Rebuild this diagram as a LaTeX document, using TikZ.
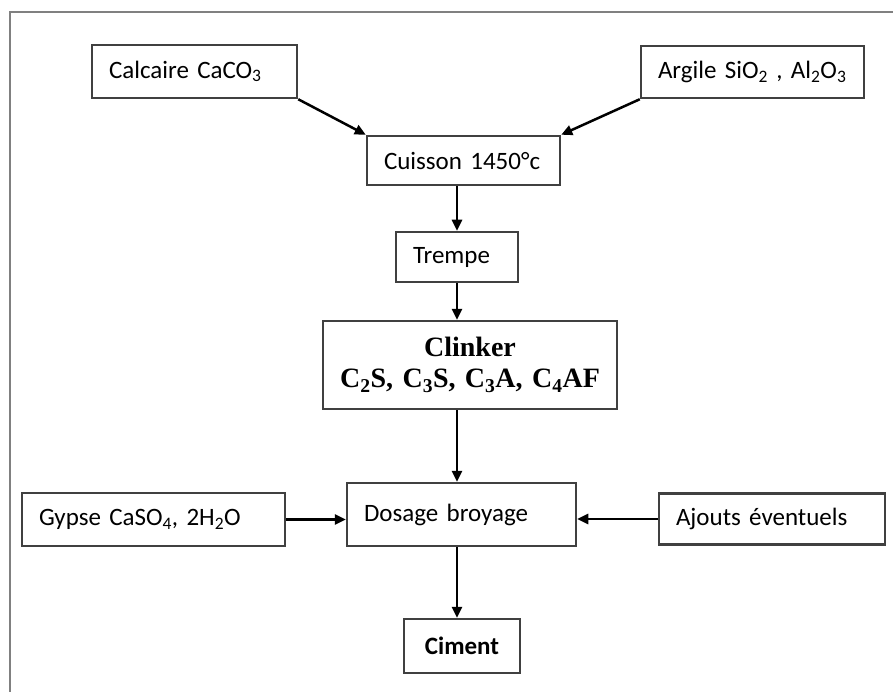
\documentclass[tikz,border=0pt]{standalone}
\usepackage{fontspec}
\setmainfont{Carlito}
\newfontfamily\timesfont{Liberation Serif}
\usetikzlibrary{arrows.meta}

\definecolor{bordcolor}{rgb}{0.250000, 0.250000, 0.250000}
\definecolor{cadrecolor}{rgb}{0.500000, 0.500000, 0.500000}

\tikzset{
  etape/.style={draw=bordcolor, line width=2.5pt, rectangle, inner xsep=17pt, inner ysep=0pt,
    font=\fontsize{25}{29}\selectfont, align=left},
  fleche/.style={-{Triangle[length=11pt,width=10pt]}, line width=2.5pt, black},
}

\begin{document}
\begin{tikzpicture}[x=1pt,y=-1pt]
\useasboundingbox (0,0) rectangle (893,692);
% cadre
\draw[cadrecolor, line width=2pt] (900,12)--(10,12)--(10,700);
% matieres premieres
\node[etape, minimum height=53pt, text width=171pt] (calcaire) at (194.5,71.5) {Calcaire CaCO\textsubscript{3}};
\node[etape, minimum height=52pt, text width=189pt] (argile) at (752.5,72) {Argile SiO\textsubscript{2} , Al\textsubscript{2}O\textsubscript{3}};
\node[etape, minimum height=49pt, text width=159pt] (cuisson) at (463.5,160.5) {Cuisson 1450°c};
\node[etape, minimum height=50pt, text width=88pt] (trempe) at (457,257) {Trempe};
% clinker
\node[etape, minimum height=88pt, text width=260pt, align=center,
  font=\timesfont\bfseries\fontsize{28}{31}\selectfont] (clinker) at (470,365)
  {Clinker\\C\textsubscript{2}S, C\textsubscript{3}S, C\textsubscript{3}A, C\textsubscript{4}AF};
% broyage
\node[etape, minimum height=63pt, text width=195pt] (dosage) at (461.5,514.5) {Dosage broyage};
\node[etape, minimum height=53pt, text width=229pt] (gypse) at (153.5,519.5) {Gypse CaSO\textsubscript{4}, 2H\textsubscript{2}O};
\node[etape, minimum height=51pt, text width=192pt] (ajouts) at (772,519) {Ajouts éventuels};
\node[etape, minimum height=54pt, text width=82pt, align=center, font=\bfseries\fontsize{25}{29}\selectfont] (ciment) at (462,646) {Ciment};
% fleches
\draw[fleche] (calcaire.south east)--(cuisson.north west);
\draw[fleche] (argile.south west)--(cuisson.north east);
\draw[fleche] (cuisson.south -| trempe)--(trempe);
\draw[fleche] (trempe)--(trempe |- clinker.north);
\draw[fleche] (clinker.south -| trempe)--(trempe |- dosage.north);
\draw[fleche] (dosage.south -| trempe)--(trempe |- ciment.north);
\draw[fleche] (gypse.east)--(gypse.east -| dosage.west);
\draw[fleche] (ajouts.west)--(ajouts.west -| dosage.east);
\end{tikzpicture}
\end{document}
